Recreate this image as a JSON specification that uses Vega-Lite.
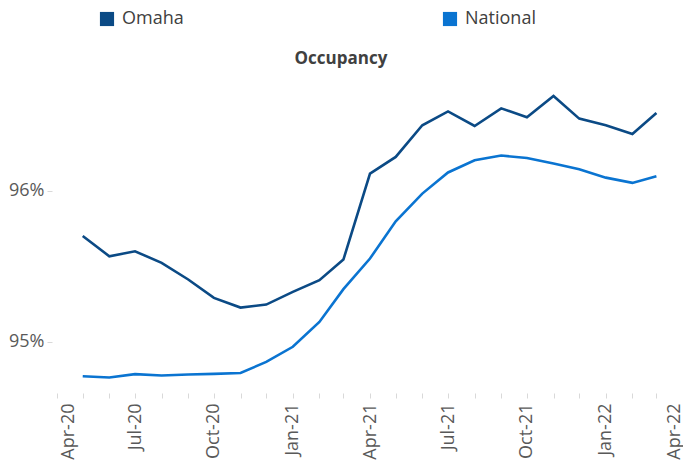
{
  "$schema": "https://vega.github.io/schema/vega-lite/v6.json",
  "autosize": "none",
  "width": 626,
  "height": 323,
  "padding": {"left": 57, "top": 70, "right": 0, "bottom": 72},
  "background": "white",
  "title": {"text": "Occupancy", "font": "Open Sans", "fontSize": 17, "fontWeight": "bold", "color": "#404040", "anchor": "start", "dx": 286, "offset": -58},
  "config": {"view": {"stroke": null}},
  "data": {"values": [
    {"date": "2020-05-01", "series": "Omaha", "occ": 95.70},
    {"date": "2020-06-01", "series": "Omaha", "occ": 95.566},
    {"date": "2020-07-01", "series": "Omaha", "occ": 95.599},
    {"date": "2020-08-01", "series": "Omaha", "occ": 95.522},
    {"date": "2020-09-01", "series": "Omaha", "occ": 95.412},
    {"date": "2020-10-01", "series": "Omaha", "occ": 95.290},
    {"date": "2020-11-01", "series": "Omaha", "occ": 95.226},
    {"date": "2020-12-01", "series": "Omaha", "occ": 95.246},
    {"date": "2021-01-01", "series": "Omaha", "occ": 95.330},
    {"date": "2021-02-01", "series": "Omaha", "occ": 95.407},
    {"date": "2021-03-01", "series": "Omaha", "occ": 95.544},
    {"date": "2021-04-01", "series": "Omaha", "occ": 96.114},
    {"date": "2021-05-01", "series": "Omaha", "occ": 96.224},
    {"date": "2021-06-01", "series": "Omaha", "occ": 96.434},
    {"date": "2021-07-01", "series": "Omaha", "occ": 96.526},
    {"date": "2021-08-01", "series": "Omaha", "occ": 96.429},
    {"date": "2021-09-01", "series": "Omaha", "occ": 96.546},
    {"date": "2021-10-01", "series": "Omaha", "occ": 96.487},
    {"date": "2021-11-01", "series": "Omaha", "occ": 96.628},
    {"date": "2021-12-01", "series": "Omaha", "occ": 96.478},
    {"date": "2022-01-01", "series": "Omaha", "occ": 96.434},
    {"date": "2022-02-01", "series": "Omaha", "occ": 96.376},
    {"date": "2022-03-01", "series": "Omaha", "occ": 96.515},
    {"date": "2020-05-01", "series": "National", "occ": 94.771},
    {"date": "2020-06-01", "series": "National", "occ": 94.763},
    {"date": "2020-07-01", "series": "National", "occ": 94.785},
    {"date": "2020-08-01", "series": "National", "occ": 94.776},
    {"date": "2020-09-01", "series": "National", "occ": 94.783},
    {"date": "2020-10-01", "series": "National", "occ": 94.787},
    {"date": "2020-11-01", "series": "National", "occ": 94.793},
    {"date": "2020-12-01", "series": "National", "occ": 94.866},
    {"date": "2021-01-01", "series": "National", "occ": 94.966},
    {"date": "2021-02-01", "series": "National", "occ": 95.131},
    {"date": "2021-03-01", "series": "National", "occ": 95.348},
    {"date": "2021-04-01", "series": "National", "occ": 95.551},
    {"date": "2021-05-01", "series": "National", "occ": 95.798},
    {"date": "2021-06-01", "series": "National", "occ": 95.981},
    {"date": "2021-07-01", "series": "National", "occ": 96.121},
    {"date": "2021-08-01", "series": "National", "occ": 96.202},
    {"date": "2021-09-01", "series": "National", "occ": 96.233},
    {"date": "2021-10-01", "series": "National", "occ": 96.217},
    {"date": "2021-11-01", "series": "National", "occ": 96.180},
    {"date": "2021-12-01", "series": "National", "occ": 96.142},
    {"date": "2022-01-01", "series": "National", "occ": 96.087},
    {"date": "2022-02-01", "series": "National", "occ": 96.052},
    {"date": "2022-03-01", "series": "National", "occ": 96.096}
  ]},
  "mark": {"type": "line", "strokeWidth": 2.6, "strokeJoin": "miter"},
  "encoding": {
    "x": {
      "field": "date", "type": "temporal",
      "scale": {"type": "utc", "domain": [1585699200000, 1648771200000]},
      "axis": {
        "title": null, "domain": false, "grid": false,
        "tickCount": {"interval": "month", "step": 1},
        "tickColor": "#D9D9D9", "tickSize": 5, "tickWidth": 1,
        "labelAngle": -90, "labelPadding": 5, "labelOverlap": false, "labelFlush": false, "labelBound": false,
        "labelOffset": {"expr": "time(datum.value) < 1586000000000 ? 11 : (time(datum.value) > 1648000000000 ? -9 : 0)"},
        "labelExpr": "utcmonth(datum.value) % 3 == 0 ? utcFormat(datum.value, '%b-%y') : ''",
        "labelFont": "Open Sans", "labelFontSize": 18, "labelColor": "#595959"
      }
    },
    "y": {
      "field": "occ", "type": "quantitative",
      "scale": {"domain": [94.66, 96.8], "zero": false, "nice": false},
      "axis": {
        "title": null, "domain": false, "grid": false,
        "values": [95, 96], "offset": 5,
        "tickColor": "#D9D9D9", "tickSize": 5,
        "labelPadding": 3,
        "labelExpr": "datum.value + '%'",
        "labelFont": "Open Sans", "labelFontSize": 18, "labelColor": "#595959"
      }
    },
    "color": {
      "field": "series", "type": "nominal",
      "scale": {"domain": ["Omaha", "National"], "range": ["#0B4A85", "#0A74D1"]},
      "legend": {
        "title": null, "orient": "none", "legendX": 41, "legendY": -60,
        "direction": "horizontal", "columns": 2, "columnPadding": 257,
        "symbolType": "square", "symbolSize": 200, "symbolStrokeWidth": 0, "symbolOpacity": 1,
        "labelFont": "Open Sans", "labelFontSize": 18, "labelColor": "#404040", "labelOffset": 6,
        "encode": {"symbols": {"update": {"fill": {"scale": "color", "field": "value"}, "fillOpacity": {"value": 1}}}}
      }
    }
  }
}
